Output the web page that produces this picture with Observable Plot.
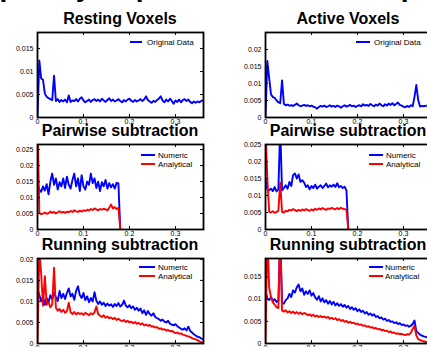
<!DOCTYPE html>
<html><head><meta charset="utf-8">
<script src="https://cdn.jsdelivr.net/npm/d3@7"></script>
<script src="https://cdn.jsdelivr.net/npm/@observablehq/plot@0.6"></script>
<style>
html,body{margin:0;padding:0;background:#fff;}
#fig{position:relative;width:427px;height:347px;overflow:hidden;font-family:"Liberation Sans",Arial,Helvetica,sans-serif;color:#000;}
.panel{position:absolute;}
.title{position:absolute;width:166px;text-align:center;font-weight:bold;font-size:16px;line-height:16px;white-space:nowrap;}
.top{position:absolute;font-weight:bold;font-size:28px;line-height:28px;white-space:nowrap;}
.lgline{position:absolute;height:2px;}
.lgtext{position:absolute;font-size:8px;line-height:9px;white-space:nowrap;}
</style></head><body><div id="fig"></div>
<script>
// ---- data ----
const freqStep = 0.004;           // frequency grid spacing (0 .. 0.36)
const xTicks = [0, 0.1, 0.2, 0.3];
const panelTitles = ["Resting Voxels", "Active Voxels", "Pairwise subtraction", "Pairwise subtraction", "Running subtraction", "Running subtraction"];
const seriesNames = ["Original Data", "Numeric", "Analytical"];

const restingOriginal = [0,0.0124,0.0085,0.0082,0.0052,0.0045,0.0042,0.0040,0.0038,0.0091,
0.0036,0.0040,0.0034,0.0038,0.0035,0.0039,0.0033,0.0048,0.0034,0.0037,
0.0036,0.0040,0.0035,0.0041,0.0044,0.0037,0.0033,0.0036,0.0039,0.0034,
0.0038,0.0040,0.0036,0.0039,0.0035,0.0041,0.0037,0.0034,0.0038,0.0042,
0.0036,0.0039,0.0035,0.0037,0.0040,0.0036,0.0033,0.0038,0.0035,0.0039,
0.0041,0.0036,0.0034,0.0038,0.0035,0.0037,0.0040,0.0036,0.0039,0.0046,
0.0038,0.0035,0.0032,0.0036,0.0034,0.0038,0.0041,0.0046,0.0037,0.0033,
0.0039,0.0035,0.0041,0.0036,0.0030,0.0037,0.0034,0.0039,0.0033,0.0038,
0.0040,0.0036,0.0039,0.0034,0.0031,0.0035,0.0032,0.0035,0.0033,0.0036,0.0037];

const activeOriginal = [0,0.0166,0.0116,0.0068,0.0060,0.0058,0.0050,0.0045,0.0042,0.0109,
0.0040,0.0036,0.0038,0.0035,0.0036,0.0034,0.0037,0.0041,0.0036,0.0033,
0.0035,0.0037,0.0034,0.0036,0.0033,0.0035,0.0032,0.0030,0.0026,0.0031,
0.0034,0.0032,0.0035,0.0031,0.0033,0.0036,0.0032,0.0034,0.0031,0.0035,
0.0033,0.0029,0.0033,0.0036,0.0032,0.0034,0.0037,0.0033,0.0035,0.0031,
0.0034,0.0036,0.0033,0.0039,0.0035,0.0037,0.0034,0.0040,0.0036,0.0033,
0.0038,0.0035,0.0041,0.0036,0.0033,0.0039,0.0035,0.0041,0.0037,0.0042,
0.0036,0.0040,0.0044,0.0037,0.0035,0.0032,0.0030,0.0034,0.0031,0.0036,
0.0033,0.0060,0.0096,0.0052,0.0032,0.0034,0.0033,0.0035,0.0034,0.0036,0.0035];

const pairRestNumeric = [0.0140,0.0125,0.0118,0.0135,0.0122,0.0142,0.0110,0.0150,0.0175,0.0140,
0.0160,0.0125,0.0148,0.0135,0.0160,0.0130,0.0165,0.0140,0.0128,0.0155,
0.0175,0.0135,0.0160,0.0120,0.0170,0.0135,0.0125,0.0150,0.0140,0.0175,
0.0145,0.0160,0.0130,0.0150,0.0120,0.0148,0.0135,0.0155,0.0128,0.0145,
0.0132,0.0142,0.0128,0.0146,0.0144,0];
const pairRestAnalytical = [0.0350,0.0052,0.0048,0.0050,0.0053,0.0049,0.0051,0.0056,0.0052,0.0055,
0.0050,0.0054,0.0057,0.0053,0.0055,0.0052,0.0056,0.0054,0.0058,0.0055,
0.0060,0.0057,0.0055,0.0059,0.0056,0.0060,0.0058,0.0062,0.0059,0.0064,
0.0061,0.0066,0.0063,0.0060,0.0064,0.0062,0.0065,0.0063,0.0060,0.0068,
0.0078,0.0066,0.0070,0.0064,0.0068,0];

const pairActiveNumeric = [0.0150,0.0118,0.0115,0.0120,0.0113,0.0125,0.0112,0.0118,0.0300,0.0115,
0.0122,0.0130,0.0120,0.0140,0.0128,0.0160,0.0165,0.0150,0.0162,0.0140,
0.0145,0.0138,0.0125,0.0130,0.0118,0.0128,0.0122,0.0132,0.0120,0.0126,
0.0130,0.0122,0.0128,0.0135,0.0124,0.0130,0.0126,0.0132,0.0125,0.0136,
0.0124,0.0128,0.0122,0.0126,0.0115,0];
const pairActiveAnalytical = [0.0300,0.0150,0.0052,0.0050,0.0054,0.0049,0.0052,0.0055,0.0138,0.0052,
0.0050,0.0055,0.0053,0.0058,0.0056,0.0060,0.0057,0.0054,0.0058,0.0055,
0.0059,0.0056,0.0060,0.0057,0.0055,0.0059,0.0056,0.0061,0.0058,0.0062,
0.0059,0.0063,0.0060,0.0058,0.0062,0.0060,0.0064,0.0061,0.0059,0.0063,
0.0060,0.0064,0.0061,0.0060,0.0058,0];

const runRestNumeric = [0.0130,0.0115,0.0100,0.0112,0.0092,0.0108,0.0098,0.0115,0.0105,0.0120,
0.0110,0.0101,0.0125,0.0108,0.0118,0.0106,0.0120,0.0131,0.0112,0.0118,
0.0104,0.0125,0.0136,0.0115,0.0108,0.0120,0.0103,0.0112,0.0098,0.0108,
0.0100,0.0122,0.0102,0.0094,0.0100,0.0092,0.0097,0.0089,0.0095,0.0090,
0.0093,0.0087,0.0094,0.0089,0.0096,0.0088,0.0092,0.0102,0.0090,0.0086,
0.0091,0.0084,0.0088,0.0080,0.0085,0.0078,0.0083,0.0072,0.0079,0.0068,
0.0077,0.0070,0.0066,0.0072,0.0063,0.0060,0.0058,0.0054,0.0057,0.0052,
0.0050,0.0054,0.0047,0.0045,0.0043,0.0046,0.0041,0.0038,0.0035,0.0033,
0.0036,0.0031,0.0040,0.0030,0.0026,0.0022,0.0019,0.0016,0.0015,0.0012,0.0010];
const runRestAnalytical = [0,0.0220,0.0165,0.0090,0.0160,0.0092,0.0098,0.0086,0.0092,0.0180,
0.0085,0.0078,0.0082,0.0075,0.0080,0.0073,0.0077,0.0097,0.0074,0.0070,
0.0075,0.0069,0.0073,0.0070,0.0072,0.0068,0.0073,0.0070,0.0067,0.0072,
0.0069,0.0074,0.0088,0.0070,0.0066,0.0063,0.0067,0.0061,0.0064,0.0060,
0.0062,0.0058,0.0061,0.0056,0.0059,0.0055,0.0053,0.0056,0.0051,0.0054,
0.0050,0.0052,0.0048,0.0051,0.0047,0.0049,0.0045,0.0048,0.0043,0.0045,
0.0042,0.0044,0.0040,0.0041,0.0038,0.0039,0.0035,0.0036,0.0033,0.0034,
0.0031,0.0032,0.0029,0.0030,0.0027,0.0025,0.0026,0.0023,0.0024,0.0021,
0.0020,0.0018,0.0017,0.0015,0.0013,0.0011,0.0010,0.0008,0.0005,0.0003,0.0001];

const runActiveNumeric = [0.0118,0.0102,0.0098,0.0105,0.0096,0.0100,0.0094,0.0097,0.0250,0.0092,
0.0090,0.0098,0.0102,0.0112,0.0105,0.0120,0.0115,0.0127,0.0133,0.0118,
0.0124,0.0110,0.0118,0.0112,0.0120,0.0108,0.0114,0.0104,0.0099,0.0107,
0.0095,0.0102,0.0093,0.0098,0.0090,0.0096,0.0088,0.0094,0.0086,0.0091,
0.0085,0.0089,0.0083,0.0087,0.0081,0.0085,0.0078,0.0082,0.0076,0.0080,
0.0073,0.0077,0.0071,0.0074,0.0068,0.0071,0.0065,0.0068,0.0063,0.0066,
0.0060,0.0062,0.0057,0.0059,0.0054,0.0056,0.0051,0.0053,0.0049,0.0050,
0.0046,0.0048,0.0044,0.0046,0.0042,0.0043,0.0040,0.0041,0.0038,0.0040,
0.0044,0.0052,0.0028,0.0024,0.0020,0.0018,0.0016,0.0015,0.0014,0.0013,0.0012];
const runActiveAnalytical = [0,0.0250,0.0126,0.0105,0.0093,0.0088,0.0082,0.0080,0.0250,0.0074,
0.0072,0.0075,0.0070,0.0073,0.0069,0.0072,0.0068,0.0071,0.0067,0.0070,
0.0066,0.0069,0.0067,0.0064,0.0066,0.0062,0.0065,0.0061,0.0063,0.0060,
0.0062,0.0059,0.0061,0.0058,0.0060,0.0056,0.0058,0.0055,0.0057,0.0053,
0.0055,0.0051,0.0053,0.0049,0.0051,0.0047,0.0049,0.0046,0.0047,0.0044,
0.0045,0.0042,0.0043,0.0040,0.0041,0.0038,0.0039,0.0036,0.0037,0.0034,
0.0035,0.0032,0.0033,0.0030,0.0031,0.0028,0.0029,0.0026,0.0027,0.0024,
0.0025,0.0022,0.0023,0.0021,0.0022,0.0020,0.0019,0.0021,0.0020,0.0024,
0.0033,0.0040,0.0018,0.0010,0.0008,0.0006,0.0005,0.0004,0.0003,0.0002,0.0001];

const yTicksRest1 = [0, 0.005, 0.01, 0.015];
const yTicksActive1 = [0, 0.005, 0.01, 0.015, 0.02];
const yTicksPair = [0, 0.005, 0.01, 0.015, 0.02, 0.025];
const yTicksRunRest = [0, 0.005, 0.01, 0.015, 0.02];
const yTicksRunActive = [0, 0.005, 0.01, 0.015];

// ---- layout / style ----
const BLUE = "#0000ff", RED = "#ff0000";
const FW = 166, FH = 85;          // frame size in px
const ML = 37, MT = 4, MR = 6, MB = 14;
const fig = document.getElementById("fig");

const panels = [
  {title: panelTitles[0], left: 0,   top: 32,  yMax: 0.0185, yTicks: yTicksRest1,
   series: [{name: seriesNames[0], values: restingOriginal, color: BLUE}],
   legend: {x: 130, y: 42, len: 12, tx: 147}},
  {title: panelTitles[1], left: 228, top: 32,  yMax: 0.025, yTicks: yTicksActive1,
   series: [{name: seriesNames[0], values: activeOriginal, color: BLUE}],
   legend: {x: 356, y: 42, len: 14, tx: 374}},
  {title: panelTitles[2], left: 0,   top: 144, yMax: 0.0266, yTicks: yTicksPair,
   series: [{name: seriesNames[1], values: pairRestNumeric, color: BLUE},
            {name: seriesNames[2], values: pairRestAnalytical, color: RED}],
   legend: {x: 141, y: 155, len: 14, tx: 158}},
  {title: panelTitles[3], left: 228, top: 144, yMax: 0.025, yTicks: yTicksPair,
   series: [{name: seriesNames[1], values: pairActiveNumeric, color: BLUE},
            {name: seriesNames[2], values: pairActiveAnalytical, color: RED}],
   legend: {x: 369, y: 155, len: 14, tx: 386}},
  {title: panelTitles[4], left: 0,   top: 258, yMax: 0.0202, yTicks: yTicksRunRest,
   series: [{name: seriesNames[1], values: runRestNumeric, color: BLUE},
            {name: seriesNames[2], values: runRestAnalytical, color: RED}],
   legend: {x: 139, y: 267, len: 16, tx: 158}},
  {title: panelTitles[5], left: 228, top: 258, yMax: 0.0192, yTicks: yTicksRunActive,
   series: [{name: seriesNames[1], values: runActiveNumeric, color: BLUE},
            {name: seriesNames[2], values: runActiveAnalytical, color: RED}],
   legend: {x: 369, y: 267, len: 14, tx: 385}}
];

function addDiv(cls, text, style) {
  const d = document.createElement("div");
  d.className = cls;
  if (text != null) d.textContent = text;
  Object.assign(d.style, style);
  fig.appendChild(d);
  return d;
}

for (const p of panels) {
  const marks = [];
  for (const s of p.series) {
    marks.push(Plot.line(s.values, {x: (d, i) => i * freqStep, y: d => d, stroke: s.color, strokeWidth: 1.9, clip: true}));
  }
  marks.push(
    Plot.ruleX(xTicks, {x: d => d, insetTop: FH - 3, stroke: "black"}),
    Plot.ruleX(xTicks, {x: d => d, insetBottom: FH - 3, stroke: "black"}),
    Plot.ruleY(p.yTicks, {y: d => d, insetRight: FW - 3, stroke: "black"}),
    Plot.ruleY(p.yTicks, {y: d => d, insetLeft: FW - 3, stroke: "black"}),
    Plot.frame({stroke: "black", strokeWidth: 1.8}),
    Plot.axisX(xTicks, {tickSize: 0, tickPadding: 2, fontSize: 7, tickFormat: d => String(d)}),
    Plot.axisY(p.yTicks, {tickSize: 0, tickPadding: 4, fontSize: 7, tickFormat: d => String(d)})
  );
  const chart = Plot.plot({
    width: ML + FW + MR, height: MT + FH + MB,
    marginLeft: ML, marginTop: MT, marginRight: MR, marginBottom: MB,
    style: {fontFamily: "'Liberation Sans', Arial, sans-serif", background: "transparent", overflow: "visible", color: "black"},
    x: {domain: [0, 0.361], label: null},
    y: {domain: [0, p.yMax], label: null},
    marks
  });
  chart.classList.add("panel");
  chart.style.left = p.left + "px";
  chart.style.top = (p.top - MT) + "px";
  fig.appendChild(chart);

  // title (baseline ~8px above the frame)
  addDiv("title", p.title, {left: (p.left + ML) + "px", top: (p.top - 8 - 13.5) + "px"});

  // legend
  p.series.forEach((s, k) => {
    const y = p.legend.y + k * 9;
    addDiv("lgline", null, {left: p.legend.x + "px", top: (y - 1) + "px", width: p.legend.len + "px", background: s.color});
    addDiv("lgtext", s.name, {left: p.legend.tx + "px", top: (y - 4.5) + "px"});
  });
}

// partially visible super-title at the very top (cut off in the original)
addDiv("top", "Temporally Spaced", {left: "-56px", top: "-27.5px", wordSpacing: "18px"});
addDiv("top", "Example", {left: "326px", top: "-27.5px"});
</script>
</body></html>
